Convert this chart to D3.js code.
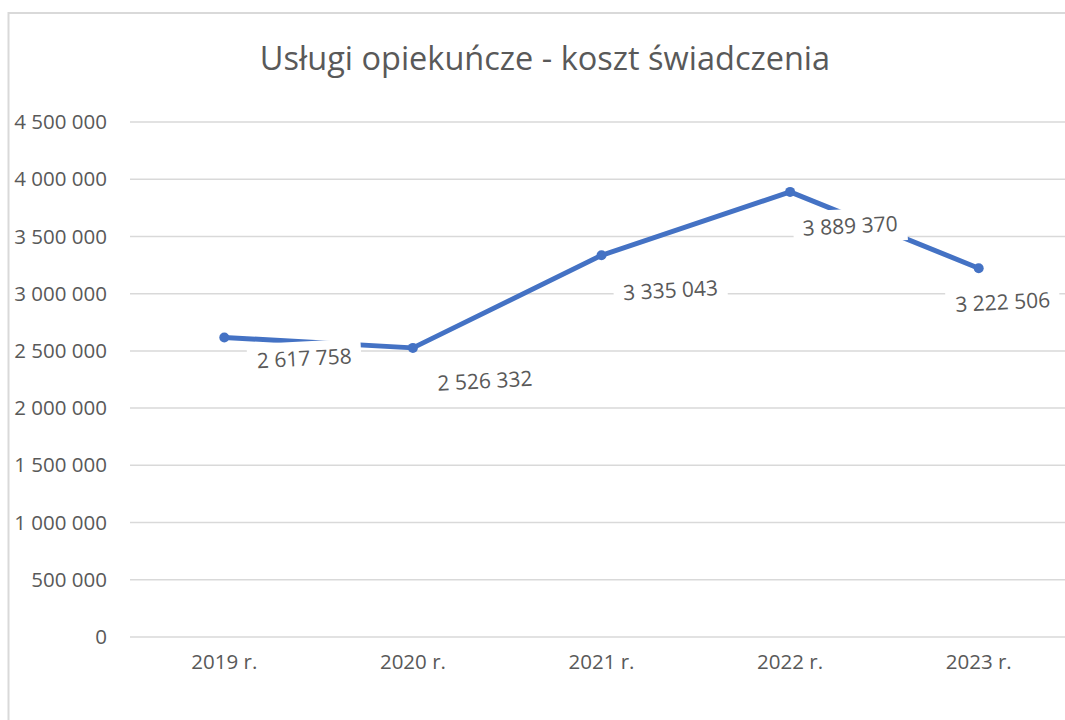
<!DOCTYPE html>
<html>
<head>
<meta charset="utf-8">
<script src="https://cdn.jsdelivr.net/npm/d3@7"></script>
<style>
  html, body { margin: 0; padding: 0; background: #fff; }
  svg { display: block; }
</style>
</head>
<body>
<svg id="chart" width="1065" height="720"></svg>
<script>
const title = "Usługi opiekuńcze - koszt świadczenia";
const categories = ["2019 r.", "2020 r.", "2021 r.", "2022 r.", "2023 r."];
const values = [2617758, 2526332, 3335043, 3889370, 3222506];
const yTicks = [0, 500000, 1000000, 1500000, 2000000, 2500000, 3000000, 3500000, 4000000, 4500000];
// label placement offsets (layout, px) relative to each point
const labelOffsets = [[80, 21], [72, 33], [69, 35], [60, 34], [24, 34]];

const W = 1065, H = 720;
const svg = d3.select("#chart");
const FONT = "'Open Sans', sans-serif";
const TEXT = "#595959";

svg.append("rect").attr("x", 0).attr("y", 0).attr("width", W).attr("height", H).attr("fill", "#fff");
svg.append("rect").attr("x", 8.5).attr("y", 13).attr("width", 1200).attr("height", 800)
  .attr("fill", "none").attr("stroke", "#d9d9d9").attr("stroke-width", 2);

const x = d3.scaleBand().domain(categories).range([130, 1073]);
const y = d3.scaleLinear().domain([0, 4500000]).range([637, 122]);

const fmt = v => d3.format(",")(v).replace(/,/g, " ");

// title
svg.append("text").attr("x", 545).attr("y", 70).attr("text-anchor", "middle")
  .attr("font-family", FONT).attr("font-size", 32.5).attr("fill", TEXT).text(title);

// gridlines
svg.append("g").selectAll("line").data(yTicks).join("line")
  .attr("x1", 130).attr("x2", 1073)
  .attr("y1", d => y(d)).attr("y2", d => y(d))
  .attr("stroke", "#d9d9d9").attr("stroke-width", 1.5);

// y axis
const yAxis = d3.axisLeft(y).tickValues(yTicks).tickFormat(fmt).tickSize(0).tickPadding(0);
const gy = svg.append("g").attr("transform", "translate(107,0)").call(yAxis);
gy.select(".domain").remove();
gy.selectAll("text").attr("font-family", FONT).attr("font-size", 20.5).attr("fill", TEXT);

// x axis
const xAxis = d3.axisBottom(x).tickSize(0).tickPadding(0);
const gx = svg.append("g").attr("transform", "translate(0,651)").call(xAxis);
gx.select(".domain").remove();
gx.selectAll("text").attr("font-family", FONT).attr("font-size", 20.5).attr("fill", TEXT).attr("dy", "0.9em");

// line
const pts = categories.map((c, i) => [x(c) + x.bandwidth() / 2, y(values[i])]);
svg.append("path").datum(pts)
  .attr("d", d3.line())
  .attr("fill", "none").attr("stroke", "#4472C4").attr("stroke-width", 5)
  .attr("stroke-linejoin", "round").attr("stroke-linecap", "round");
svg.append("g").selectAll("circle").data(pts).join("circle")
  .attr("cx", d => d[0]).attr("cy", d => d[1]).attr("r", 5).attr("fill", "#4472C4");

// data labels
const lg = svg.append("g").selectAll("g").data(values).join("g")
  .attr("transform", (d, i) => `translate(${pts[i][0] + labelOffsets[i][0]},${pts[i][1] + labelOffsets[i][1]}) rotate(-3)`);
lg.append("rect").attr("x", -57).attr("y", -17).attr("width", 114).attr("height", 34).attr("fill", "#fff");
lg.append("text").attr("text-anchor", "middle").attr("dy", "0.35em")
  .attr("font-family", FONT).attr("font-size", 21).attr("fill", TEXT).text(d => fmt(d));
</script>
</body>
</html>
